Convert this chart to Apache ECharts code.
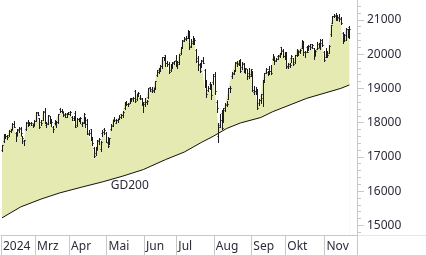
<!DOCTYPE html>
<html><head><meta charset="utf-8">
<script src="https://cdn.jsdelivr.net/npm/echarts@6/dist/echarts.min.js"></script>
<style>html,body{margin:0;padding:0;background:#fff}#c{width:426px;height:255px}</style>
</head><body><div id="c"></div>
<script>
var months = ['2024-02','2024-03','2024-04','2024-05','2024-06','2024-07','2024-08','2024-09','2024-10','2024-11'];
var monthLabels = ['2024','Mrz','Apr','Mai','Jun','Jul','Aug','Sep','Okt','Nov'];
var tradingDays = [
 [1,2,5,6,7,8,9,12,13,14,15,16,20,21,22,23,26,27,28,29],
 [1,4,5,6,7,8,11,12,13,14,15,18,19,20,21,22,25,26,27,28],
 [1,2,3,4,5,8,9,10,11,12,15,16,17,18,19,22,23,24,25,26,29,30],
 [1,2,3,6,7,8,9,10,13,14,15,16,17,20,21,22,23,24,28,29,30,31],
 [3,4,5,6,7,10,11,12,13,14,17,18,20,21,24,25,26,27,28],
 [1,2,3,5,8,9,10,11,12,15,16,17,18,19,22,23,24,25,26,29,30,31],
 [1,2,5,6,7,8,9,12,13,14,15,16,19,20,21,22,23,26,27,28,29,30],
 [3,4,5,6,9,10,11,12,13,16,17,18,19,20,23,24,25,26,27,30],
 [1,2,3,4,7,8,9,10,11,14,15,16,17,18,21,22,23,24,25,28,29,30,31],
 [1,4,5,6,7,8,11,12,13,14,15,18,19,20,21,22,25,26,27]
];
var closes = [
 17345,17642,17610,17570,17755,17783,17962,17882,17600,17789,17835,17686,17556,17480,17997,17937,17977,17990,17892,18043,
 18302,18228,17874,17985,18305,18018,17952,18210,18024,18006,17808,17985,18021,18240,18339,18340,18211,18176,18280,18255,
 18297,18131,18150,17880,18092,18090,18148,17980,18245,17956,17676,17707,17493,17395,17037,17211,17471,17527,17430,17718,17783,17440,
 17318,17541,17890,18079,18082,18071,18114,18161,18209,18320,18593,18540,18546,18675,18713,18705,18627,18809,18868,18725,18538,18537,
 18605,18631,19005,18968,18943,19000,19210,19465,19577,19660,19903,19908,19752,19700,19474,19701,19750,19789,19683,
 19756,19988,20186,20391,20439,20460,20676,20212,20331,20387,20423,19799,19699,19522,19798,19754,19033,18831,19024,19059,18797,19362,
 18922,18440,17877,18071,17841,18413,18513,18553,19000,19010,19460,19508,19753,19720,19818,19514,19721,19532,19590,19363,19353,19575,
 18959,18921,18930,18421,18647,18829,19239,19437,19574,19492,19500,19443,19935,19794,19867,19944,20017,20101,19954,20061,
 19645,19708,19685,19959,19700,19965,20122,20077,20133,20387,20066,20056,20072,20241,20291,20277,19948,20092,20188,20218,20425,20259,19843,
 20033,19971,20236,20839,21101,21118,21099,21070,21035,20898,20394,20572,20739,20698,20740
];
var opens = [
 17200,17460,17610,17620,17630,17760,17810,17960,17700,17720,17800,17820,17600,17460,17800,18020,17940,18000,17930,17990,
 18060,18270,18130,18010,18090,18340,17940,18000,18190,18080,17880,17990,17940,18020,18400,18330,18290,18260,18250,18270,
 18300,18170,18090,18280,17920,18120,18130,17960,18020,18140,18080,17700,17800,17520,17270,17110,17240,17490,17220,17710,17800,17700,
 17420,17430,17800,17920,18110,18000,18070,18150,18240,18220,18420,18600,18550,18570,18660,18700,18920,18700,18870,18730,18700,18580,
 18600,18590,18740,19030,18920,18910,19050,19380,19530,19550,19650,19910,19970,19740,19700,19540,19660,19760,19840,
 19720,19720,20020,20210,20420,20470,20480,20670,20240,20390,20400,20130,19880,19680,19640,19820,19550,19060,18950,19130,19100,19180,
 19430,18600,17600,17920,18280,18070,18360,18540,18700,19020,19350,19430,19540,19760,19750,19840,19620,19730,19520,19560,19450,19420,
 19490,18880,18910,18920,18560,18670,18710,19250,19460,19490,19580,19500,19860,19900,19840,19950,19970,20210,20110,19940,
 20030,19630,19650,19880,19880,19760,19970,20070,20050,20190,20370,20060,20220,20150,20230,20220,20170,20070,20160,20300,20190,20330,20050,
 19920,20020,20030,20580,20910,21120,21150,21090,21040,21050,20630,20400,20420,20720,20790
];
var highs = [
 17360,17680,17680,17650,17780,17800,17980,18040,17720,17800,17860,17880,17620,17500,18010,18090,18020,18030,17960,18080,
 18310,18320,18150,18080,18330,18420,18010,18230,18200,18100,17910,18080,18040,18250,18420,18390,18320,18290,18290,18300,
 18340,18200,18190,18330,18140,18150,18170,18030,18280,18160,18110,17780,17810,17590,17300,17290,17500,17560,17460,17780,17840,17730,
 17580,17560,17960,18080,18160,18100,18120,18220,18260,18340,18600,18620,18560,18710,18730,18750,18960,18830,18900,18800,18720,18600,
 18720,18650,19010,19040,19030,19010,19220,19540,19590,19670,19920,19930,19980,19800,19760,19720,19770,19810,19980,
 19790,19990,20200,20410,20490,20530,20690,20680,20430,20520,20480,20140,19950,19740,19830,19910,19570,19250,19080,19180,19140,19410,
 19480,18650,18000,18250,18380,18440,18560,18630,19010,19060,19480,19530,19770,19800,19830,19860,19770,19740,19600,19580,19600,19580,
 19500,19070,19040,18970,18680,18830,19250,19460,19590,19520,19650,19690,20000,19910,19900,19970,20040,20220,20150,20070,
 20060,19750,19750,19960,19890,19980,20140,20100,20150,20420,20390,20080,20230,20270,20310,20310,20180,20120,20340,20320,20450,20430,20090,
 20180,20080,20260,20850,21110,21180,21190,21130,21160,21090,20640,20600,20760,20740,20830
];
var lows = [
 17160,17440,17540,17520,17610,17720,17800,17870,17450,17650,17740,17650,17420,17340,17780,17900,17920,17920,17860,17940,
 18040,18210,17830,17930,18080,17980,17880,17960,17990,17890,17740,17970,17880,17990,18300,18310,18200,18170,18160,18240,
 18220,18080,18080,17880,17890,18060,18000,17900,17990,17880,17660,17640,17480,17360,17000,17060,17220,17380,17160,17600,17680,17430,
 17300,17380,17780,17900,18050,17990,18010,18110,18150,18170,18410,18520,18480,18560,18630,18620,18590,18670,18780,18690,18520,18300,
 18480,18540,18720,18920,18900,18890,18970,19350,19440,19520,19600,19840,19650,19640,19460,19500,19600,19710,19660,
 19600,19700,20010,20190,20380,20400,20460,20150,20200,20310,20300,19780,19540,19480,19610,19740,19030,18750,18910,18990,18680,19130,
 18830,18300,17430,17880,17810,18010,18340,18490,18690,18880,19300,19410,19500,19660,19690,19480,19570,19490,19450,19260,19290,19350,
 18930,18850,18850,18400,18520,18580,18500,19200,19440,19390,19410,19420,19830,19720,19790,19850,19930,20000,19910,19870,
 19590,19590,19620,19780,19680,19740,19950,19960,20030,20170,19980,19930,20050,20130,20160,20190,19860,19970,20160,20200,20160,20250,19810,
 19910,19920,20020,20530,20900,21070,21000,20990,20980,20880,20330,20370,20400,20500,20470
];
var gd200Dates = ['2024-02-01','2024-02-16','2024-03-06','2024-03-21','2024-04-10','2024-04-26','2024-05-14','2024-05-31','2024-06-20','2024-07-08','2024-07-22','2024-07-31','2024-08-12','2024-08-22','2024-09-10','2024-09-19','2024-10-17','2024-11-14','2024-11-21'];
var gd200Values = [15220,15540,15770,15950,16120,16270,16440,16630,16920,17140,17420,17600,17830,17990,18150,18320,18710,19000,19100];
var yMajorTicks = [15000,16000,17000,18000,19000,20000,21000];
var yMinorTicks = [14800,15000,15200,15400,15600,15800,16000,16200,16400,16600,16800,17000,17200,17400,17600,17800,18000,18200,18400,18600,18800,19000,19200,19400,19600,19800,20000,20200,20400,20600,20800,21000,21200,21400];

var categories = [], firstOfMonth = {};
months.forEach(function(m, mi){
  tradingDays[mi].forEach(function(d, di){
    var s = m + '-' + (d < 10 ? '0' + d : '' + d);
    if (di === 0) firstOfMonth[s] = monthLabels[mi];
    categories.push(s);
  });
});
var ohlc = closes.map(function(c, i){ return [i, opens[i], highs[i], lows[i], c]; });
var gdData = gd200Dates.map(function(d, i){ return [d, gd200Values[i]]; });

var chart = echarts.init(document.getElementById('c'), null, {renderer:'canvas'});
var axisGray = '#c8c8c8';
var font = 'Noto Sans';
chart.setOption({
  animation:false,
  grid:{left:0, right:69, top:0, bottom:20, containLabel:false},
  xAxis:{type:'category', data:categories, boundaryGap:true,
    axisLine:{show:true, lineStyle:{color:axisGray, width:1}},
    axisTick:{show:true, length:20, lineStyle:{color:axisGray}, interval:function(i, v){ return firstOfMonth[v] !== undefined; }},
    axisLabel:{show:true, interval:function(i, v){ return firstOfMonth[v] !== undefined; },
      formatter:function(v){ return firstOfMonth[v] || ''; }, align:'left', margin:6,
      color:'#2b2b3a', fontFamily:font, fontSize:12, padding:[0,0,0,1]},
    splitLine:{show:false}},
  yAxis:[
    {type:'value', position:'right', min:14720, max:21580, scale:true,
      axisLine:{show:true, lineStyle:{color:axisGray}},
      axisTick:{show:true, length:7, customValues:yMajorTicks, lineStyle:{color:axisGray}},
      axisLabel:{show:true, customValues:yMajorTicks, margin:10, color:'#2b2b3a', fontFamily:font, fontSize:12,
        formatter:function(v){ return String(Math.round(v)); }},
      splitLine:{show:false}},
    {type:'value', position:'right', min:14720, max:21580, scale:true,
      axisLine:{show:false},
      axisTick:{show:true, length:4, customValues:yMinorTicks, lineStyle:{color:axisGray}},
      axisLabel:{show:false},
      splitLine:{show:false}}
  ],
  graphic:[
    {type:'line', shape:{x1:357, y1:235.5, x2:426, y2:235.5}, style:{stroke:'#e6e6e6', lineWidth:1}, silent:true},
    {type:'line', shape:{x1:357.5, y1:235, x2:357.5, y2:255}, style:{stroke:axisGray, lineWidth:1}, silent:true}
  ],
  series:[
    {type:'line', data:closes, symbol:'none', lineStyle:{width:0, opacity:0},
      areaStyle:{color:'#e4eab1', opacity:1, origin:'start'}, z:1, silent:true},
    {type:'line', data:gdData, symbol:'none', lineStyle:{width:1, color:'#111'},
      areaStyle:{color:'#ffffff', opacity:1, origin:'start'}, z:2, silent:true,
      markPoint:{symbol:'circle', symbolSize:0, silent:true,
        label:{show:true, formatter:'GD200', color:'#2b2b3a', fontFamily:font, fontSize:12, offset:[0,12]},
        data:[{coord:['2024-05-20', 16500]}]}},
    {type:'custom', data:ohlc, z:5, silent:true,
      encode:{x:0, y:[1,2,3,4]},
      renderItem:function(params, api){
        var i = api.value(0);
        var pH = api.coord([i, api.value(2)]), pL = api.coord([i, api.value(3)]);
        var pO = api.coord([i, api.value(1)]), pC = api.coord([i, api.value(4)]);
        var X = Math.round(pH[0]) + 0.5;
        var yO = Math.round(pO[1]) + 0.5, yC = Math.round(pC[1]) + 0.5;
        var st = {stroke:'#1c1c1c', lineWidth:1};
        return {type:'group', children:[
          {type:'line', shape:{x1:X, y1:Math.round(pH[1]), x2:X, y2:Math.round(pL[1])+1}, style:st},
          {type:'line', shape:{x1:X-1, y1:yO, x2:X, y2:yO}, style:st},
          {type:'line', shape:{x1:X, y1:yC, x2:X+1.2, y2:yC}, style:st}
        ]};
      }}
  ]
});
</script></body></html>
